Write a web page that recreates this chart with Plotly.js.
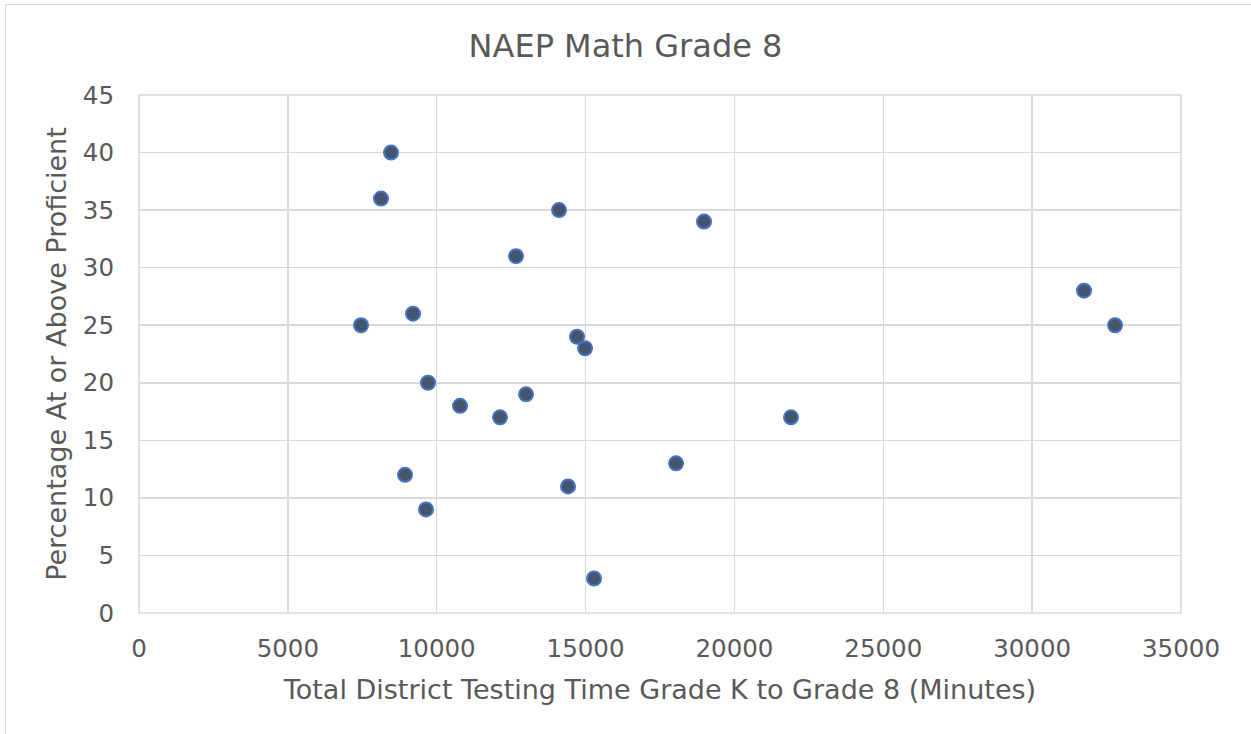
<!DOCTYPE html>
<html><head><meta charset="utf-8">
<script src="https://cdn.plot.ly/plotly-3.0.1.min.js"></script>
<style>
html,body{margin:0;padding:0;background:#fff;overflow:hidden}
#chart{position:absolute;left:0;top:0;width:1251px;height:734px}
#frame{position:absolute;left:5px;top:4px;width:1300px;height:800px;border:1.5px solid #d9d9d9;pointer-events:none}
</style></head>
<body>
<div id="chart"></div>
<div id="frame"></div>
<script>
const testingMinutes = [8465, 8129, 14108, 18979, 12664, 31743, 9204, 7457, 32785, 14713, 14982, 9708, 13000, 10783, 12126, 21901, 18039, 8935, 14411, 9641, 15284];
const pctProficient = [40, 36, 35, 34, 31, 28, 26, 25, 25, 24, 23, 20, 19, 18, 17, 17, 13, 12, 11, 9, 3];
const xTicks = [0, 5000, 10000, 15000, 20000, 25000, 30000, 35000];
const yTicks = [0, 5, 10, 15, 20, 25, 30, 35, 40, 45];

const font = "DejaVu Sans, Verdana, sans-serif";
const textColor = "#595959";
const gridColor = "#d9d9d9";

Plotly.newPlot("chart", [{
  x: testingMinutes, y: pctProficient,
  type: "scatter", mode: "markers",
  marker: {size: 14, color: "#44546A", line: {color: "#4472C4", width: 2}},
  hoverinfo: "x+y"
}], {
  width: 1251, height: 734,
  margin: {l: 139, r: 70, t: 95, b: 121},
  paper_bgcolor: "rgba(0,0,0,0)", plot_bgcolor: "#fff",
  showlegend: false,
  font: {family: font, color: textColor, size: 24.5},
  title: {text: "NAEP Math Grade 8", font: {family: font, size: 32, color: textColor}, x: 0.5, xanchor: "center", y: 0.938, yanchor: "middle"},
  xaxis: {
    range: [0, 35000], tickvals: xTicks, ticktext: xTicks.map(String),
    showgrid: true, gridcolor: gridColor, gridwidth: 1.5, zeroline: false, showline: false,
    ticks: "", ticklabelstandoff: 18,
    tickfont: {family: font, size: 24.5, color: textColor},
    title: {text: "Total District Testing Time Grade K to Grade 8 (Minutes)", font: {family: font, size: 27, color: textColor}, standoff: 18}
  },
  yaxis: {
    range: [0, 45], tickvals: yTicks, ticktext: yTicks.map(String),
    showgrid: true, gridcolor: gridColor, gridwidth: 1.5, zeroline: false, showline: false,
    ticks: "", ticklabelstandoff: 24,
    tickfont: {family: font, size: 24.5, color: textColor},
    title: {text: "Percentage At or Above Proficient", font: {family: font, size: 27, color: textColor}, standoff: 8}
  },
  shapes: [
    {type: "rect", xref: "paper", yref: "paper", x0: 0, x1: 1, y0: 0, y1: 1, line: {color: gridColor, width: 1.5}, layer: "below"}
  ]
}, {displayModeBar: false, staticPlot: true});
</script>
</body></html>
